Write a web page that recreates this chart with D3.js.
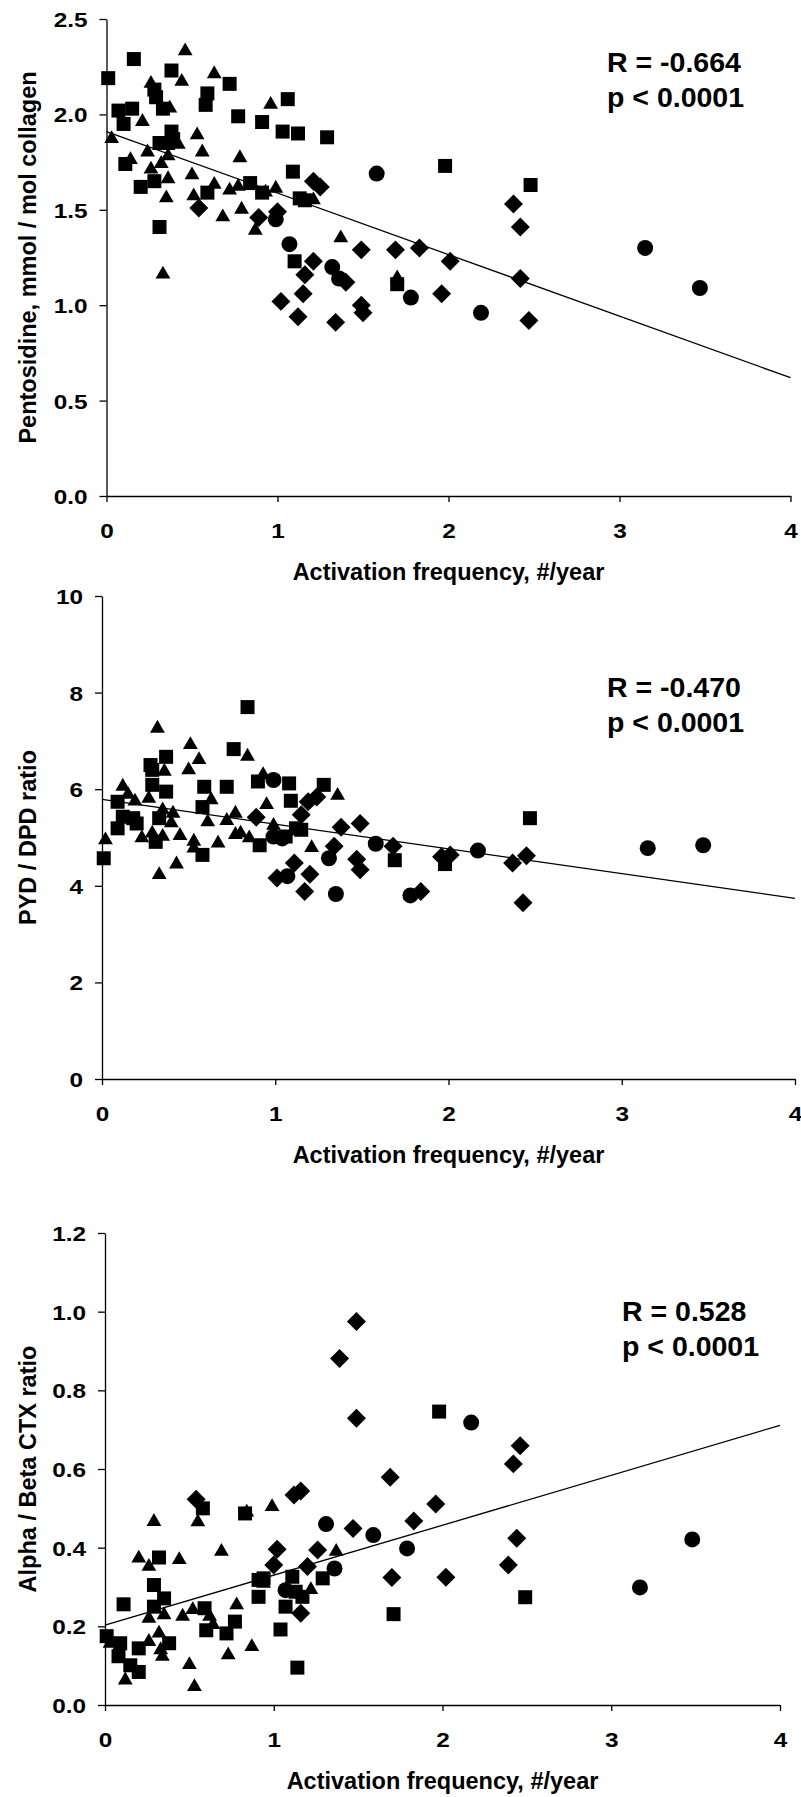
<!DOCTYPE html>
<html>
<head>
<meta charset="utf-8">
<script src="https://cdn.jsdelivr.net/npm/d3@7"></script>
<style>
  body { margin: 0; background: #fff; }
  svg text { font-family: "Liberation Sans", Arial, sans-serif; font-weight: bold; fill: #000; }
</style>
</head>
<body>
<svg id="chart" width="801" height="1797"></svg>
<script>
// x values are activation frequency (#/year); one array per marker shape

// --- panel 1: pentosidine
var pent_sq = [[0.01,2.19],[0.16,2.29],[0.38,2.23],[0.07,2.02],[0.15,2.03],[0.10,1.95],[0.28,2.13],[0.29,2.09],[0.33,2.03],
  [0.59,2.11],[0.58,2.05],[0.72,2.16],[0.77,1.99],[1.06,2.08],[0.91,1.96],[1.03,1.91],[1.12,1.90],[1.29,1.88],[0.38,1.91],
  [0.39,1.87],[0.31,1.85],[0.36,1.85],[0.11,1.74],[0.20,1.62],[0.28,1.65],[0.31,1.41],[0.59,1.59],[0.84,1.64],[0.91,1.59],
  [1.09,1.70],[1.13,1.56],[1.16,1.55],[1.10,1.23],[1.70,1.11],[1.98,1.73],[2.48,1.63]];
var pent_tri = [[0.46,2.34],[0.63,2.22],[0.26,2.17],[0.44,2.18],[0.96,2.06],[0.37,2.04],[0.21,1.97],[0.03,1.88],[0.53,1.90],
  [0.42,1.85],[0.24,1.81],[0.56,1.81],[0.14,1.77],[0.78,1.78],[0.36,1.79],[0.32,1.75],[0.26,1.72],[0.36,1.67],[0.50,1.69],
  [0.63,1.64],[0.72,1.61],[0.77,1.63],[0.99,1.62],[0.51,1.58],[0.35,1.57],[0.79,1.51],[0.68,1.47],[0.87,1.40],[1.37,1.36],
  [0.33,1.17],[1.21,1.56],[0.93,1.60],[1.70,1.15]];
var pent_dia = [[0.54,1.51],[0.89,1.46],[1.00,1.49],[1.21,1.65],[1.25,1.62],[1.21,1.23],[1.16,1.16],[1.15,1.06],[1.02,1.02],
  [1.12,0.94],[1.34,0.91],[1.40,1.12],[1.49,1.29],[1.49,1.00],[1.50,0.96],[1.69,1.29],[1.83,1.30],[2.01,1.23],[1.96,1.06],
  [2.38,1.53],[2.42,1.41],[2.42,1.14],[2.47,0.92]];
var pent_cir = [[0.99,1.45],[1.07,1.32],[1.32,1.20],[1.36,1.14],[1.58,1.69],[1.78,1.04],[2.19,0.96],[3.15,1.30],[3.47,1.09]];
var pent_fit = [[0, 1.91], [4, 0.62]];

// --- panel 2: PYD / DPD
var pyd_sq = [[0.01,4.57],[0.09,5.19],[0.09,5.74],[0.12,5.43],[0.20,5.29],[0.18,5.40],[0.29,6.40],[0.28,6.50],[0.29,6.09],
  [0.31,4.91],[0.37,6.67],[0.37,5.95],[0.33,5.40],[0.58,5.63],[0.59,6.05],[0.58,4.64],[0.72,6.05],[0.76,6.83],[0.84,7.70],
  [0.90,6.16],[0.91,4.84],[1.08,6.12],[1.09,5.76],[1.28,6.09],[1.15,5.16],[1.06,5.02],[1.12,5.19],[2.47,5.40],[1.69,4.53],
  [1.98,4.45]];
var pyd_tri = [[0.02,4.98],[0.12,6.09],[0.15,5.92],[0.19,5.78],[0.23,5.02],[0.32,7.29],[0.36,6.40],[0.27,5.84],[0.35,5.60],
  [0.41,5.53],[0.40,5.33],[0.29,5.12],[0.35,5.05],[0.45,5.07],[0.33,4.26],[0.43,4.48],[0.51,6.95],[0.56,6.64],[0.50,6.43],
  [0.63,5.81],[0.61,5.35],[0.53,4.95],[0.53,4.81],[0.67,4.91],[0.72,5.38],[0.77,5.53],[0.77,5.09],[0.80,5.12],[0.84,6.71],
  [0.85,5.02],[0.93,6.33],[0.95,5.71],[0.99,5.28],[1.21,4.82],[1.36,5.90]];
var pyd_dia = [[0.89,5.42],[1.15,5.47],[1.19,5.74],[1.24,5.84],[1.38,5.21],[1.49,5.29],[1.34,4.82],[1.11,4.47],[1.20,4.24],
  [1.47,4.55],[1.49,4.33],[1.01,4.16],[1.17,3.88],[1.68,4.82],[1.96,4.60],[2.01,4.64],[2.37,4.47],[2.45,4.62],[1.84,3.88],
  [2.43,3.65]];
var pyd_cir = [[0.99,6.19],[0.99,5.02],[1.04,4.98],[1.31,4.57],[1.35,3.83],[1.58,4.87],[1.07,4.20],[2.17,4.73],[3.15,4.78],
  [3.47,4.84],[1.78,3.80]];
var pyd_fit = [[0, 5.79], [4, 3.74]];

// --- panel 3: alpha / beta CTX
var ctx_sq = [[0.01,0.175],[0.09,0.157],[0.08,0.124],[0.15,0.101],[0.20,0.084],[0.20,0.144],[0.11,0.256],[0.29,0.305],
  [0.32,0.375],[0.29,0.25],[0.35,0.271],[0.38,0.157],[0.58,0.50],[0.59,0.246],[0.60,0.19],[0.72,0.182],[0.77,0.212],
  [0.83,0.487],[0.91,0.275],[0.91,0.318],[0.94,0.322],[1.04,0.192],[1.07,0.25],[1.11,0.326],[1.13,0.288],[1.17,0.275],
  [1.14,0.095],[1.29,0.322],[1.71,0.231],[1.98,0.746],[2.49,0.274]];
var ctx_tri = [[0.29,0.47],[0.20,0.377],[0.26,0.356],[0.26,0.224],[0.26,0.165],[0.12,0.067],[0.03,0.16],[0.32,0.186],
  [0.33,0.144],[0.34,0.127],[0.35,0.233],[0.44,0.373],[0.46,0.229],[0.52,0.246],[0.50,0.106],[0.53,0.05],[0.55,0.469],
  [0.62,0.229],[0.64,0.208],[0.69,0.394],[0.73,0.131],[0.78,0.258],[0.87,0.152],[0.84,0.494],[0.99,0.508],[0.94,0.313],
  [1.22,0.297],[1.37,0.394]];
var ctx_dia = [[1.49,0.975],[1.39,0.881],[1.49,0.729],[1.69,0.579],[1.83,0.468],[0.54,0.523],[1.12,0.534],[1.16,0.544],
  [1.47,0.449],[2.46,0.659],[2.42,0.613],[1.96,0.511],[1.02,0.396],[1.00,0.356],[1.16,0.233],[1.20,0.352],[1.26,0.394],
  [1.70,0.324],[2.02,0.325],[2.39,0.356],[2.44,0.424]];
var ctx_cir = [[1.31,0.46],[1.07,0.292],[1.36,0.347],[1.59,0.432],[1.79,0.398],[2.17,0.718],[3.17,0.299],[3.48,0.421]];
var ctx_fit = [[0, 0.203], [4, 0.711]];

var xTicks = [0, 1, 2, 3, 4];
var xTitle = "Activation frequency, #/year";

var svg = d3.select("#chart");

// shapes
var symSquare = d3.symbol().type(d3.symbolSquare).size(196)();
var symCircle = d3.symbol().type(d3.symbolCircle).size(201)();
var symTri = d3.symbol().type(d3.symbolTriangle).size(95)();
var symDia = d3.symbol().type(d3.symbolSquare).size(180)();

function drawPanel(p) {
  var x = d3.scaleLinear().domain([0, 4]).range([p.left, p.right]);
  var y = d3.scaleLinear().domain([0, p.yMax]).range([p.bottom, p.top]);
  var g = svg.append("g");

  // y axis
  var ya = g.append("g").attr("transform", "translate(" + p.left + ",0)")
    .call(d3.axisLeft(y).tickValues(p.yTicks).tickFormat(p.fmt).tickSize(7).tickSizeOuter(0));
  ya.selectAll("text").attr("x", 0).attr("dy", "0.36em")
    .attr("transform", "translate(-19,0) scale(1.16,1)")
    .style("font-size", "21px");

  // x axis
  var xa = g.append("g").attr("transform", "translate(0," + p.bottom + ")")
    .call(d3.axisBottom(x).tickValues(xTicks).tickFormat(d3.format("d")).tickSize(6).tickSizeOuter(0));
  xa.selectAll("text").attr("y", 0).attr("dy", "0.36em")
    .attr("transform", "translate(0,34) scale(1.16,1)")
    .style("font-size", "21px");

  g.selectAll(".domain, .tick line").attr("stroke", "#000").attr("stroke-width", 1.3);

  // axis titles
  g.append("text").attr("x", (p.left + p.right) / 2).attr("y", p.bottom + 84)
    .attr("text-anchor", "middle").style("font-size", "23.5px").text(xTitle);
  g.append("text").attr("transform", "translate(36," + ((p.top + p.bottom) / 2) + ") rotate(-90)")
    .attr("text-anchor", "middle").style("font-size", "23.5px").text(p.yTitle);

  // fit line
  g.append("path").datum(p.fit)
    .attr("d", d3.line().x(function(d) { return x(d[0]); }).y(function(d) { return y(d[1]); }))
    .attr("stroke", "#000").attr("stroke-width", 1.3).attr("fill", "none");

  // markers
  var sets = [[p.tri, symTri, 0, 1.5], [p.sq, symSquare, 0, 0], [p.dia, symDia, 45, 0], [p.cir, symCircle, 0, 0]];
  sets.forEach(function(s) {
    g.append("g").selectAll("path").data(s[0]).enter().append("path")
      .attr("d", s[1])
      .attr("transform", function(d) { return "translate(" + x(d[0]) + "," + (y(d[1]) + s[3]) + ") rotate(" + s[2] + ")"; })
      .attr("fill", "#000");
  });

  // stats
  var st = g.append("g").style("font-size", "28.5px");
  st.append("text").attr("x", p.statX).attr("y", p.statY).text(p.stat);
  st.append("text").attr("x", p.statX).attr("y", p.statY + 35).text("p < 0.0001");
}

drawPanel({ left: 106.5, right: 790.5, top: 19, bottom: 496, yMax: 2.5,
  yTicks: [0, 0.5, 1, 1.5, 2, 2.5], fmt: d3.format(".1f"),
  yTitle: "Pentosidine, mmol / mol collagen",
  sq: pent_sq, tri: pent_tri, dia: pent_dia, cir: pent_cir, fit: pent_fit,
  stat: "R = -0.664", statX: 607, statY: 72 });

drawPanel({ left: 102, right: 795, top: 596, bottom: 1079, yMax: 10,
  yTicks: [0, 2, 4, 6, 8, 10], fmt: d3.format("d"),
  yTitle: "PYD / DPD ratio",
  sq: pyd_sq, tri: pyd_tri, dia: pyd_dia, cir: pyd_cir, fit: pyd_fit,
  stat: "R = -0.470", statX: 607, statY: 697 });

drawPanel({ left: 105, right: 780, top: 1233, bottom: 1705, yMax: 1.2,
  yTicks: [0, 0.2, 0.4, 0.6, 0.8, 1.0, 1.2], fmt: d3.format(".1f"),
  yTitle: "Alpha / Beta CTX ratio",
  sq: ctx_sq, tri: ctx_tri, dia: ctx_dia, cir: ctx_cir, fit: ctx_fit,
  stat: "R = 0.528", statX: 622, statY: 1321 });
</script>
</body>
</html>
